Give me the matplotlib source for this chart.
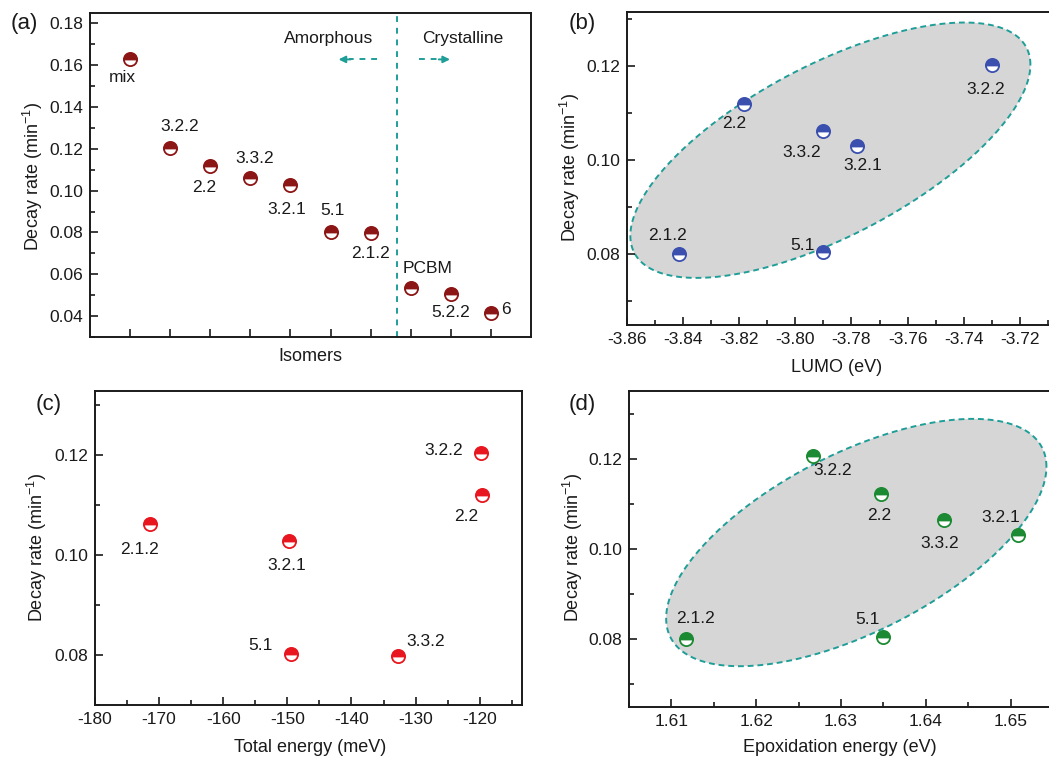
import numpy as np
import matplotlib
matplotlib.use('Agg')
import matplotlib.pyplot as plt
from matplotlib.ticker import MultipleLocator, FormatStrFormatter
from matplotlib.patches import Polygon

plt.rcParams['font.family'] = ['Liberation Sans', 'DejaVu Sans']
plt.rcParams['mathtext.fontset'] = 'custom'
plt.rcParams['mathtext.rm'] = 'Liberation Sans'
plt.rcParams['mathtext.it'] = 'Liberation Sans:italic'
plt.rcParams['mathtext.bf'] = 'Liberation Sans:bold'
plt.rcParams['axes.unicode_minus'] = False

# ---------------- data ----------------
# (a) decay rate for each isomer
isomers_a = ['mix', '3.2.2', '2.2', '3.3.2', '3.2.1', '5.1', '2.1.2', 'PCBM', '5.2.2', '6']
decay_a = [0.163, 0.1203, 0.112, 0.106, 0.1027, 0.0804, 0.0797, 0.0536, 0.0504, 0.0416]

# (b) decay rate vs LUMO
labels_b = ['2.1.2', '2.2', '3.3.2', '3.2.1', '5.1', '3.2.2']
lumo_b = [-3.8413, -3.8181, -3.7902, -3.7781, -3.7902, -3.7301]
decay_b = [0.0800, 0.1120, 0.1061, 0.1029, 0.0805, 0.1202]

# (c) decay rate vs total energy
labels_c = ['3.2.2', '2.2', '2.1.2', '3.2.1', '5.1', '3.3.2']
energy_c = [-119.8, -119.6, -171.4, -149.8, -149.5, -132.7]
decay_c = [0.1205, 0.1120, 0.1062, 0.1029, 0.0803, 0.0799]

# (d) decay rate vs epoxidation energy
labels_d = ['3.2.2', '2.2', '3.3.2', '3.2.1', '2.1.2', '5.1']
epox_d = [1.6267, 1.6347, 1.6421, 1.6509, 1.6117, 1.6349]
decay_d = [0.1205, 0.1122, 0.1063, 0.1030, 0.0800, 0.0804]

# ---------------- style ----------------
W, H = 1049, 757
fig = plt.figure(figsize=(W / 100, H / 100), dpi=100)
TEAL = '#1f9e98'
DARKRED = '#8c1515'
BLUE = '#3a4fae'
RED = '#e8161e'
GREEN = '#1b8a32'
SPINE = '#1a1a1a'
TXT = '#1a1a1a'


def px_axes(l, t, r, b):
    return fig.add_axes([l / W, 1 - b / H, (r - l) / W, (b - t) / H])


def fpos(x, y):
    return (x / W, 1 - y / H)


def style(ax):
    for s in ax.spines.values():
        s.set_linewidth(1.4)
        s.set_color(SPINE)
    ax.tick_params(which='both', direction='in', top=False, right=False,
                   labelsize=12.5, width=1.2, pad=5, colors=SPINE, labelcolor=TXT)
    ax.tick_params(which='major', length=6)
    ax.tick_params(which='minor', length=3.5)


def halfdots(ax, x, y, c):
    ax.plot(x, y, ls='none', marker='o', ms=9.5, mew=1.3, color=c,
            markeredgecolor=c, fillstyle='top', markerfacecoloralt='white', zorder=5)


def labels(ax, x, y, names, offs):
    for xi, yi, n, (dx, dy) in zip(x, y, names, offs):
        ax.annotate(n, (xi, yi), xytext=(dx, dy), textcoords='offset pixels',
                    ha='center', va='center', fontsize=12.5, color=TXT, zorder=6)


def ellipse(ax, cx, cy, wx, wy, rho):
    t = np.linspace(0, 2 * np.pi, 400)
    phi = np.arccos(rho)
    pts = np.column_stack([cx + wx * np.cos(t), cy + wy * np.cos(t - phi)])
    ax.add_patch(Polygon(pts, closed=True, facecolor='#d6d6d6', edgecolor=TEAL,
                         linestyle=(0, (3, 2)), linewidth=1.4, zorder=1))


YLAB = r'Decay rate (min$^{\mathregular{-1}}$)'


def set_labels(ax, xl, xpos, ypos):
    ax.set_xlabel(xl, fontsize=13, color=TXT, va='center', ha='center')
    ax.xaxis.set_label_coords(*fpos(*xpos), transform=fig.transFigure)
    ax.set_ylabel(YLAB, fontsize=13, color=TXT, va='center', ha='center')
    ax.yaxis.set_label_coords(*fpos(*ypos), transform=fig.transFigure)


# ---------------- (a) ----------------
axa = px_axes(90, 13, 531, 337)
style(axa)
xa = np.arange(1, len(isomers_a) + 1)
axa.set_xlim(0, 11)
axa.set_ylim(0.03, 0.185)
axa.set_xticks(xa)
axa.set_xticklabels([])
axa.yaxis.set_major_locator(MultipleLocator(0.02))
axa.yaxis.set_minor_locator(MultipleLocator(0.01))
axa.yaxis.set_major_formatter(FormatStrFormatter('%.2f'))
axa.axvline(7.67, color=TEAL, ls=(0, (3, 3)), lw=1.4, zorder=2)
halfdots(axa, xa, decay_a, DARKRED)
offs_a = [(-8, -19), (9, 22), (-6, -22), (4, 20), (-4, -24), (2, 21), (0, -20),
          (17, 19), (0, -18), (15, 3)]
labels(axa, xa, decay_a, isomers_a, offs_a)
axa.text(5.95, 0.1728, 'Amorphous', ha='center', va='center', fontsize=12.5, color=TXT)
axa.text(9.3, 0.1728, 'Crystalline', ha='center', va='center', fontsize=12.5, color=TXT)
ya = 0.1628
axa.plot([7.15, 6.45], [ya, ya], color=TEAL, lw=1.4, ls=(0, (3, 3)))
axa.annotate('', xy=(6.2, ya), xytext=(6.5, ya),
             arrowprops=dict(arrowstyle='-|>', color=TEAL, lw=1.4, mutation_scale=10,
                             shrinkA=0, shrinkB=0))
axa.plot([8.2, 8.75], [ya, ya], color=TEAL, lw=1.4, ls=(0, (3, 3)))
axa.annotate('', xy=(8.98, ya), xytext=(8.7, ya),
             arrowprops=dict(arrowstyle='-|>', color=TEAL, lw=1.4, mutation_scale=10,
                             shrinkA=0, shrinkB=0))
set_labels(axa, 'Isomers', (310, 357), (33, 177))
fig.text(*fpos(24, 24), '(a)', fontsize=16, ha='center', va='center', color=TXT)

# ---------------- (b) ----------------
axb = px_axes(626.7, 11.7, 1070, 325)
style(axb)
axb.set_xlim(-3.86, -3.7022)
axb.set_ylim(0.065, 0.1315)
axb.xaxis.set_major_locator(MultipleLocator(0.02))
axb.xaxis.set_minor_locator(MultipleLocator(0.01))
axb.xaxis.set_major_formatter(FormatStrFormatter('%.2f'))
axb.yaxis.set_major_locator(MultipleLocator(0.02))
axb.yaxis.set_minor_locator(MultipleLocator(0.01))
axb.yaxis.set_major_formatter(FormatStrFormatter('%.2f'))
ellipse(axb, -3.7875, 0.1021, 0.0712, 0.0271, 0.67)
halfdots(axb, lumo_b, decay_b, BLUE)
offs_b = [(-12, 19), (-10, -20), (-21, -21), (6, -19), (-20, 6), (-6, -25)]
labels(axb, lumo_b, decay_b, labels_b, offs_b)
set_labels(axb, 'LUMO (eV)', (837, 367), (570, 168))
fig.text(*fpos(582, 23), '(b)', fontsize=16, ha='center', va='center', color=TXT)

# ---------------- (c) ----------------
axc = px_axes(95, 391, 522, 705)
style(axc)
axc.set_xlim(-180, -113.4)
axc.set_ylim(0.07, 0.1328)
axc.xaxis.set_major_locator(MultipleLocator(10))
axc.xaxis.set_minor_locator(MultipleLocator(5))
axc.xaxis.set_major_formatter(FormatStrFormatter('%d'))
axc.yaxis.set_major_locator(MultipleLocator(0.02))
axc.yaxis.set_minor_locator(MultipleLocator(0.01))
axc.yaxis.set_major_formatter(FormatStrFormatter('%.2f'))
halfdots(axc, energy_c, decay_c, RED)
offs_c = [(-37, 2), (-16, -21), (-11, -25), (-2, -25), (-30, 8), (27, 14)]
labels(axc, energy_c, decay_c, labels_c, offs_c)
set_labels(axc, 'Total energy (meV)', (310, 747), (37, 548))
fig.text(*fpos(49, 405), '(c)', fontsize=16, ha='center', va='center', color=TXT)

# ---------------- (d) ----------------
axd = px_axes(629, 391, 1070, 706.7)
style(axd)
axd.set_xlim(1.605, 1.657)
axd.set_ylim(0.065, 0.135)
axd.xaxis.set_major_locator(MultipleLocator(0.01))
axd.xaxis.set_minor_locator(MultipleLocator(0.005))
axd.xaxis.set_major_formatter(FormatStrFormatter('%.2f'))
axd.yaxis.set_major_locator(MultipleLocator(0.02))
axd.yaxis.set_minor_locator(MultipleLocator(0.01))
axd.yaxis.set_major_formatter(FormatStrFormatter('%.2f'))
ellipse(axd, 1.6318, 0.1014, 0.02242, 0.02742, 0.613)
halfdots(axd, epox_d, decay_d, GREEN)
offs_d = [(20, -14), (-2, -22), (-4, -23), (-18, 18), (10, 21), (-15, 18)]
labels(axd, epox_d, decay_d, labels_d, offs_d)
set_labels(axd, 'Epoxidation energy (eV)', (840, 747), (573, 548))
fig.text(*fpos(582, 405), '(d)', fontsize=16, ha='center', va='center', color=TXT)

fig.savefig('out.png', dpi=100)
